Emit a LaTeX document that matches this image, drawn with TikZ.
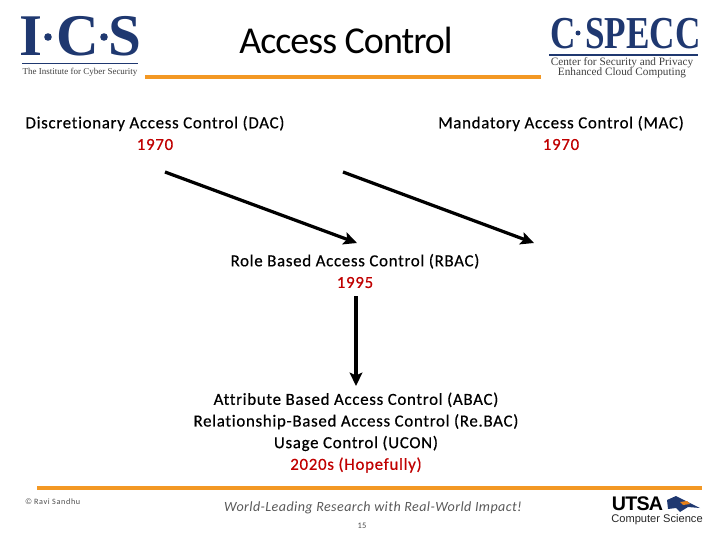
\documentclass[tikz,border=0pt]{standalone}
\usepackage{fontspec}
\setmainfont[Ligatures=NoCommon]{Carlito}
\newfontfamily\logoserif{Liberation Serif}
\newfontfamily\logosans{Liberation Sans}
\usetikzlibrary{arrows.meta,positioning,calc}
\definecolor{barorange}{RGB}{243,152,36}
\definecolor{logonavy}{RGB}{31,56,112}
\definecolor{yearred}{RGB}{192,0,0}
\begin{document}
\begin{tikzpicture}[x=0.025cm,y=-0.025cm,>=Stealth,line cap=butt,
    every node/.style={inner sep=0pt,outer sep=0pt},
    model/.style={font=\fontsize{12}{15.4}\selectfont\addfontfeatures{LetterSpace=4.2,FakeBold=0.5},align=center,anchor=center},
    flow/.style={-{Stealth[length=9.5pt,width=9pt,inset=2pt]},line width=2.3pt,black},
    bar/.style={fill=barorange,draw=none},
    icsletter/.style={font=\logoserif\bfseries\fontsize{42}{42}\selectfont,text=logonavy},
    specletter/.style={font=\logoserif\bfseries\fontsize{25}{25}\selectfont,text=logonavy}]
    \useasboundingbox (0,0) rectangle (720,540);
    % bars
    \fill[bar] (145,75) rectangle (541,79);
    \fill[bar] (37,486) rectangle (702,490);
    % title
    \node[font=\fontsize{27}{30}\selectfont\addfontfeatures{LetterSpace=-2.6}] (title) at (346,40) {Access Control};
    % models
    \node[model] (dac) at (155,133) {Discretionary Access Control (DAC)\\\textcolor{yearred}{1970}};
    \node[model] (mac) at (561,133) {Mandatory Access Control (MAC)\\\textcolor{yearred}{1970}};
    \node[model] (rbac) at (355,271) {Role Based Access Control (RBAC)\\\textcolor{yearred}{1995}};
    \node[model] (abac) at (356,432.5) {Attribute Based Access Control (ABAC)\\Relationship-Based Access Control (Re.BAC)\\Usage Control (UCON)\\\textcolor{yearred}{2020s (Hopefully)}};
    % arrows
    \coordinate (dacend) at (165,172);
    \coordinate (dactip) at (357,243);
    \coordinate (macend) at (343,172);
    \coordinate (mactip) at (534,243);
    \coordinate (rbacend) at (356,296);
    \coordinate (rbactip) at (356,386);
    \draw[flow] (dacend) -- (dactip);
    \draw[flow] (macend) -- (mactip);
    \draw[flow] (rbacend) -- (rbactip);
    % ICS logo
    \node[icsletter] (icsi) at (31,36) {I};
    \node[icsletter] (icsc) at (78,36) {C};
    \node[icsletter] (icss) at (125,36) {S};
    \fill[logonavy] (48,37) circle (3.8);
    \fill[logonavy] (104,37) circle (3.8);
    \coordinate (icsa) at (22,63);
    \coordinate (icsb) at (138,63);
    \draw[logonavy,line width=0.7pt] (icsa) -- (icsb);
    \node[font=\logoserif\fontsize{6.4}{8}\selectfont,text=black!75] (icstext) at (80,72) {The Institute for Cyber Security};
    % CSPECC logo
    \node[specletter] (specc) at (563,34) {\scalebox{1}[1.3]{C}};
    \node[specletter] (specrest) at (643,34) {\scalebox{1}[1.3]{SPECC}};
    \fill[logonavy] (578,33) circle (2.5);
    \coordinate (speca) at (549,55);
    \coordinate (specb) at (698,55);
    \draw[logonavy,line width=1pt] (speca) -- (specb);
    \node[font=\logoserif\fontsize{8}{7.3}\selectfont,text=black!75,align=center] (spectext) at (622,68) {Center for Security and Privacy\\Enhanced Cloud Computing};
    % footer
    \node[font=\fontsize{5.8}{6}\selectfont\addfontfeatures{LetterSpace=8},text=black!70] (copyr) at (53,502) {{\logosans©}\;Ravi Sandhu};
    \node[font=\itshape\fontsize{10}{12}\selectfont\addfontfeatures{LetterSpace=3},text=black!65] (motto) at (373,507.5) {World-Leading Research with Real-World Impact!};
    \node[font=\fontsize{6}{6}\selectfont,text=black!70] (pagenum) at (362,526) {15};
    % UTSA logo
    \node[font=\logosans\bfseries\fontsize{14}{16}\selectfont\addfontfeatures{LetterSpace=-4},text=black] (utsa) at (637.5,504) {UTSA};
    \node[font=\logosans\fontsize{7.9}{9}\selectfont,text=black!85] (cstext) at (657,520) {Computer Science};
    \fill[logonavy] (667,500) -- (676,496) -- (686,501) -- (700,508) -- (688,507) -- (680,512) -- (676,508) -- (668,509) -- cycle;
    \fill[orange!60!brown] (680,502) -- (687,501) -- (690,504) -- (683,505) -- cycle;
\end{tikzpicture}
\end{document}
